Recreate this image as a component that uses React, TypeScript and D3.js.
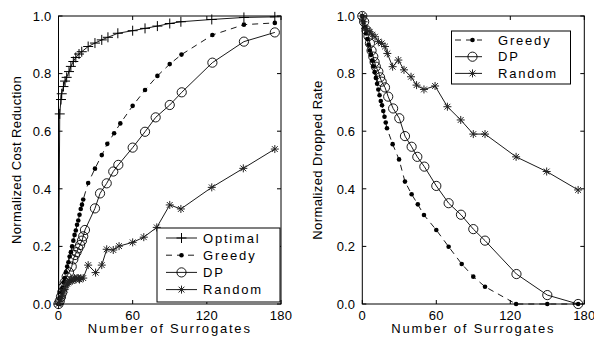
import { useEffect, useRef } from "react";
import * as d3 from "d3";

type Pt = [ number, number ];

const xTicks = [ 0, 60, 120, 180 ];
const yTicks = [ 0, 0.2, 0.4, 0.6, 0.8, 1.0 ];

// left panel: cost reduction
const costOptimal: Pt[] = [
    [ 0, 0 ], [ 1, 0.66 ], [ 2, 0.71 ], [ 2.6, 0.73 ], [ 4, 0.755 ], [ 5.3, 0.774 ], [ 6.6, 0.787 ], [ 8.5, 0.807 ],
    [ 10, 0.825 ], [ 12, 0.842 ], [ 14, 0.856 ], [ 16.6, 0.868 ], [ 18.8, 0.876 ], [ 24, 0.894 ], [ 29.5, 0.906 ],
    [ 35, 0.917 ], [ 40, 0.926 ], [ 48, 0.94 ], [ 60, 0.949 ], [ 70, 0.957 ], [ 80, 0.965 ], [ 90, 0.974 ],
    [ 99, 0.98 ], [ 124, 0.988 ], [ 150, 0.995 ], [ 175, 0.997 ],
];
const costGreedy: Pt[] = [
    [ 0, 0 ], [ 1, 0.02 ], [ 2, 0.04 ], [ 3, 0.055 ], [ 4, 0.075 ], [ 5, 0.09 ], [ 6, 0.11 ], [ 7, 0.13 ], [ 8, 0.145 ],
    [ 9, 0.165 ], [ 10, 0.18 ], [ 11, 0.2 ], [ 12, 0.22 ], [ 13, 0.24 ], [ 14, 0.255 ], [ 15, 0.275 ], [ 16, 0.29 ],
    [ 17, 0.31 ], [ 18, 0.33 ], [ 19, 0.345 ], [ 20, 0.363 ], [ 24, 0.42 ], [ 29.5, 0.47 ], [ 35, 0.517 ],
    [ 39.5, 0.556 ], [ 45, 0.593 ], [ 50, 0.627 ], [ 60, 0.688 ], [ 70, 0.743 ], [ 80, 0.792 ], [ 90, 0.833 ],
    [ 99.5, 0.866 ], [ 124.5, 0.934 ], [ 150, 0.97 ], [ 175, 0.976 ],
];
const costDP: Pt[] = [
    [ 0, 0 ], [ 1, 0.01 ], [ 2, 0.025 ], [ 3, 0.04 ], [ 4, 0.06 ], [ 5, 0.075 ], [ 6.6, 0.095 ], [ 8.5, 0.11 ],
    [ 10.7, 0.13 ], [ 12, 0.155 ], [ 13.3, 0.17 ], [ 14.6, 0.18 ], [ 16, 0.193 ], [ 17.5, 0.205 ], [ 19, 0.22 ],
    [ 20, 0.235 ], [ 21.4, 0.257 ], [ 29.5, 0.332 ], [ 33.6, 0.384 ], [ 39, 0.419 ], [ 44.3, 0.46 ], [ 48.4, 0.483 ],
    [ 60, 0.543 ], [ 70, 0.598 ], [ 78.6, 0.648 ], [ 90, 0.691 ], [ 99.7, 0.735 ], [ 124.5, 0.838 ], [ 150, 0.911 ],
    [ 175, 0.943 ],
];
const costRandom: Pt[] = [
    [ 0, 0 ], [ 1, 0.01 ], [ 2, 0.02 ], [ 3, 0.03 ], [ 4, 0.045 ], [ 5, 0.05 ], [ 6, 0.065 ], [ 7, 0.07 ], [ 8, 0.075 ],
    [ 9, 0.08 ], [ 10, 0.085 ], [ 11, 0.08 ], [ 12, 0.085 ], [ 13, 0.09 ], [ 14, 0.085 ], [ 15, 0.09 ], [ 16, 0.09 ],
    [ 17, 0.085 ], [ 18, 0.09 ], [ 20, 0.09 ], [ 24, 0.135 ], [ 30, 0.109 ], [ 35, 0.135 ], [ 39, 0.19 ],
    [ 44.3, 0.1875 ], [ 49, 0.201 ], [ 60, 0.214 ], [ 69, 0.232 ], [ 79.5, 0.266 ], [ 90, 0.344 ], [ 99, 0.33 ],
    [ 124, 0.405 ], [ 149.5, 0.471 ], [ 175, 0.538 ],
];

// right panel: dropped rate
const dropGreedy: Pt[] = [
    [ 0, 1 ], [ 1, 0.98 ], [ 2, 0.96 ], [ 3, 0.94 ], [ 4, 0.92 ], [ 5, 0.9 ], [ 6, 0.88 ], [ 7, 0.865 ], [ 8, 0.845 ],
    [ 9, 0.825 ], [ 10, 0.805 ], [ 11, 0.785 ], [ 12, 0.765 ], [ 13, 0.745 ], [ 14, 0.725 ], [ 15, 0.705 ],
    [ 16, 0.69 ], [ 17, 0.67 ], [ 18, 0.65 ], [ 19, 0.63 ], [ 20, 0.61 ], [ 24.6, 0.555 ], [ 29.8, 0.502 ],
    [ 34.6, 0.425 ], [ 40, 0.381 ], [ 45, 0.346 ], [ 50, 0.309 ], [ 60, 0.257 ], [ 70, 0.199 ], [ 80.6, 0.139 ],
    [ 90, 0.095 ], [ 99.5, 0.06 ], [ 124.7, 0 ], [ 150, 0 ], [ 175, 0 ],
];
const dropDP: Pt[] = [
    [ 0, 1 ], [ 1.5, 0.98 ], [ 3.5, 0.95 ], [ 5, 0.93 ], [ 6.2, 0.905 ], [ 7.5, 0.88 ], [ 8.9, 0.859 ], [ 10, 0.84 ],
    [ 11, 0.824 ], [ 13, 0.807 ], [ 14.4, 0.787 ], [ 15.7, 0.772 ], [ 18.4, 0.752 ], [ 21, 0.72 ], [ 25, 0.679 ],
    [ 30, 0.645 ], [ 34.6, 0.583 ], [ 40, 0.546 ], [ 44.6, 0.511 ], [ 50.3, 0.477 ], [ 60, 0.41 ], [ 70, 0.35 ],
    [ 80, 0.31 ], [ 90, 0.26 ], [ 99.5, 0.22 ], [ 125, 0.104 ], [ 150, 0.031 ], [ 175, 0 ],
];
const dropRandom: Pt[] = [
    [ 0, 1 ], [ 1, 0.98 ], [ 2.2, 0.957 ], [ 4, 0.95 ], [ 6, 0.945 ], [ 8, 0.935 ], [ 10.3, 0.928 ], [ 13, 0.911 ],
    [ 15.7, 0.905 ], [ 18.4, 0.894 ], [ 20.3, 0.87 ], [ 24.6, 0.824 ], [ 29.2, 0.847 ], [ 33.8, 0.813 ],
    [ 39.5, 0.789 ], [ 44, 0.76 ], [ 50, 0.745 ], [ 59, 0.757 ], [ 69, 0.685 ], [ 79.8, 0.639 ], [ 90, 0.59 ],
    [ 99.5, 0.59 ], [ 124.7, 0.511 ], [ 149.5, 0.46 ], [ 175, 0.396 ],
];

type Marker = "plus" | "dot" | "circle" | "star";

interface Series
{
    label: string;
    data: Pt[];
    marker: Marker;
    dashed: boolean;
}

const costSeries: Series[] = [
    { label: "Optimal", data: costOptimal, marker: "plus", dashed: false },
    { label: "Greedy", data: costGreedy, marker: "dot", dashed: true },
    { label: "DP", data: costDP, marker: "circle", dashed: false },
    { label: "Random", data: costRandom, marker: "star", dashed: false },
];
const dropSeries: Series[] = [
    { label: "Greedy", data: dropGreedy, marker: "dot", dashed: true },
    { label: "DP", data: dropDP, marker: "circle", dashed: false },
    { label: "Random", data: dropRandom, marker: "star", dashed: false },
];

const FONT = "'Liberation Sans', Arial, sans-serif";
const INK = "#000";

function drawMarker ( g: d3.Selection<SVGGElement, unknown, null, undefined>, kind: Marker, cx: number, cy: number )
{
    if ( kind === "plus" )
    {
        g.append( "path" ).attr( "d", `M${ cx - 5 },${ cy }H${ cx + 5 }M${ cx },${ cy - 5 }V${ cy + 5 }` )
            .attr( "stroke", INK ).attr( "stroke-width", 1 ).attr( "fill", "none" );
    } else if ( kind === "dot" )
    {
        g.append( "circle" ).attr( "cx", cx ).attr( "cy", cy ).attr( "r", 2.3 ).attr( "fill", INK );
    } else if ( kind === "circle" )
    {
        g.append( "circle" ).attr( "cx", cx ).attr( "cy", cy ).attr( "r", 4.6 )
            .attr( "fill", "none" ).attr( "stroke", INK ).attr( "stroke-width", 0.9 );
    } else
    {
        const r = 4, d = 2.9;
        g.append( "path" )
            .attr( "d", `M${ cx - r },${ cy }H${ cx + r }M${ cx },${ cy - r }V${ cy + r }M${ cx - d },${ cy - d }L${ cx + d },${ cy + d }M${ cx - d },${ cy + d }L${ cx + d },${ cy - d }` )
            .attr( "stroke", "#222" ).attr( "stroke-width", 1 ).attr( "fill", "none" );
    }
}

interface PanelOpts
{
    left: number;
    right: number;
    yLabel: string;
    yLabelX: number;
    series: Series[];
    legend: { x0: number; x1: number; y0: number; y1: number; firstY: number; step: number; lineX0: number; lineX1: number; markX: number; textX: number };
}

function drawPanel ( svg: d3.Selection<SVGSVGElement, unknown, null, undefined>, o: PanelOpts )
{
    const top = 16, bottom = 304;
    const x = d3.scaleLinear().domain( [ 0, 180 ] ).range( [ o.left, o.right ] );
    const y = d3.scaleLinear().domain( [ 0, 1 ] ).range( [ bottom, top ] );
    const g = svg.append( "g" );

    // box
    g.append( "rect" ).attr( "x", o.left ).attr( "y", top ).attr( "width", o.right - o.left ).attr( "height", bottom - top )
        .attr( "fill", "none" ).attr( "stroke", INK ).attr( "stroke-width", 1 );

    // inward ticks
    const tl = 4;
    xTicks.forEach( ( t ) =>
    {
        g.append( "line" ).attr( "x1", x( t ) ).attr( "x2", x( t ) ).attr( "y1", bottom ).attr( "y2", bottom - tl ).attr( "stroke", INK );
        g.append( "line" ).attr( "x1", x( t ) ).attr( "x2", x( t ) ).attr( "y1", top ).attr( "y2", top + tl ).attr( "stroke", INK );
        g.append( "text" ).attr( "x", x( t ) ).attr( "y", 319.5 ).attr( "text-anchor", "middle" )
            .attr( "font-family", FONT ).attr( "font-size", 13 ).attr( "letter-spacing", "0.2px" ).attr( "fill", INK ).text( String( t ) );
    } );
    yTicks.forEach( ( t ) =>
    {
        g.append( "line" ).attr( "x1", o.left ).attr( "x2", o.left + tl ).attr( "y1", y( t ) ).attr( "y2", y( t ) ).attr( "stroke", INK );
        g.append( "line" ).attr( "x1", o.right ).attr( "x2", o.right - tl ).attr( "y1", y( t ) ).attr( "y2", y( t ) ).attr( "stroke", INK );
        g.append( "text" ).attr( "x", o.left - 7 ).attr( "y", y( t ) + 4.7 ).attr( "text-anchor", "end" )
            .attr( "font-family", FONT ).attr( "font-size", 13 ).attr( "letter-spacing", "0.2px" ).attr( "fill", INK ).text( t.toFixed( 1 ) );
    } );

    // axis titles
    g.append( "text" ).attr( "x", ( o.left + o.right ) / 2 ).attr( "y", 333 ).attr( "text-anchor", "middle" )
        .attr( "font-family", FONT ).attr( "font-size", 13 ).attr( "letter-spacing", "1.8px" ).attr( "fill", INK )
        .text( "Number of Surrogates" );
    g.append( "text" ).attr( "transform", `translate(${ o.yLabelX },${ ( top + bottom ) / 2 }) rotate(-90)` ).attr( "text-anchor", "middle" )
        .attr( "font-family", FONT ).attr( "font-size", 13 ).attr( "letter-spacing", "0.4px" ).attr( "fill", INK )
        .text( o.yLabel );

    // series
    const line = d3.line<Pt>().x( ( d ) => x( d[ 0 ] ) ).y( ( d ) => y( d[ 1 ] ) );
    o.series.forEach( ( s ) =>
    {
        g.append( "path" ).attr( "d", line( s.data ) ).attr( "fill", "none" ).attr( "stroke", INK ).attr( "stroke-width", 0.9 )
            .attr( "stroke-dasharray", s.dashed ? "6,5" : null );
        const mg = g.append( "g" );
        s.data.forEach( ( d ) => drawMarker( mg, s.marker, x( d[ 0 ] ), y( d[ 1 ] ) ) );
    } );

    // legend
    const L = o.legend;
    const lg = g.append( "g" );
    lg.append( "rect" ).attr( "x", L.x0 ).attr( "y", L.y0 ).attr( "width", L.x1 - L.x0 ).attr( "height", L.y1 - L.y0 )
        .attr( "fill", "#fff" ).attr( "stroke", INK ).attr( "stroke-width", 1 );
    o.series.forEach( ( s, i ) =>
    {
        const ly = L.firstY + i * L.step;
        lg.append( "line" ).attr( "x1", L.lineX0 ).attr( "x2", L.lineX1 ).attr( "y1", ly ).attr( "y2", ly )
            .attr( "stroke", INK ).attr( "stroke-width", 0.9 ).attr( "stroke-dasharray", s.dashed ? "6,5" : null );
        drawMarker( lg, s.marker, L.markX, ly );
        lg.append( "text" ).attr( "x", L.textX ).attr( "y", ly + 4.7 ).attr( "font-family", FONT ).attr( "font-size", 13 )
            .attr( "letter-spacing", "1.8px" ).attr( "fill", INK ).text( s.label );
    } );
}

export default function App ()
{
    const svgRef = useRef<SVGSVGElement>( null );

    useEffect( () =>
    {
        if ( !svgRef.current ) return;
        const svg = d3.select( svgRef.current );
        svg.selectAll( "*" ).remove();
        svg.append( "rect" ).attr( "width", 594 ).attr( "height", 338 ).attr( "fill", "#fff" );

        drawPanel( svg, {
            left: 58.5, right: 281, yLabel: "Normalized Cost Reduction", yLabelX: 21, series: costSeries,
            legend: { x0: 157, x1: 280, y0: 228, y1: 302, firstY: 238, step: 17.2, lineX0: 166, lineX1: 197, markX: 181.5, textX: 203 },
        } );
        drawPanel( svg, {
            left: 362.3, right: 584.3, yLabel: "Normalized Dropped Rate", yLabelX: 322, series: dropSeries,
            legend: { x0: 451.5, x1: 570.5, y0: 31, y1: 84, firstY: 40, step: 16.7, lineX0: 455, lineX1: 482, markX: 472.5, textX: 498 },
        } );
    }, [] );

    return (
        <div style={ { position: "fixed", left: 0, top: 0 } }>
            <svg ref={ svgRef } width={ 594 } height={ 338 } style={ { display: "block" } } />
        </div>
    );
}
